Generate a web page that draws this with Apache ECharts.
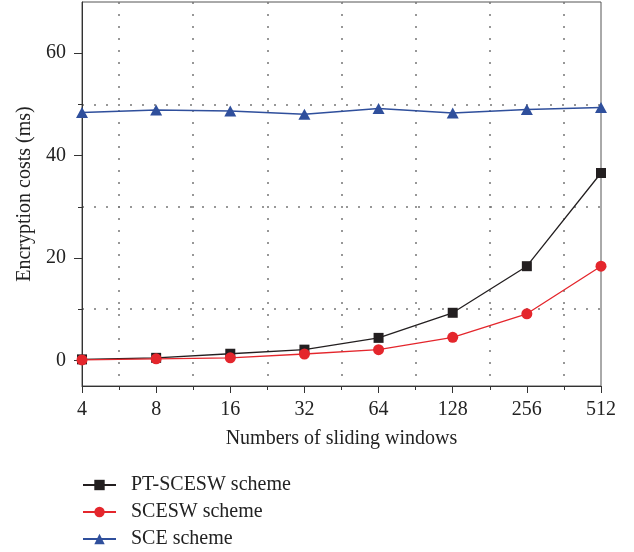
<!DOCTYPE html>
<html>
<head>
<meta charset="utf-8">
<script src="https://cdn.jsdelivr.net/npm/echarts@6/dist/echarts.min.js"></script>
<style>html,body{margin:0;padding:0;background:#fff}#c{width:634px;height:552px}</style>
</head>
<body>
<div id="c"></div>
<script>
var categories = ['4', '8', '16', '32', '64', '128', '256', '512'];
var ptScesw = [0.2, 0.5, 1.3, 2.1, 4.4, 9.3, 18.4, 36.6];
var scesw = [0.1, 0.3, 0.5, 1.25, 2.1, 4.5, 9.1, 18.4];
var sce = [48.4, 48.9, 48.7, 48.1, 49.2, 48.3, 49.0, 49.4];
var yMajorTicks = [0, 20, 40, 60];
var yMinorTicks = [10, 30, 50];

function pairs(arr) { return arr.map(function (v, i) { return [i, v]; }); }

var font = 'Liberation Serif';
var chart = echarts.init(document.getElementById('c'));
chart.setOption({
  animation: false,
  textStyle: { fontFamily: font },
  grid: { left: 82, right: 33, top: 2, bottom: 166, show: true, borderColor: '#555', borderWidth: 1, backgroundColor: 'transparent' },
  xAxis: {
    type: 'value', min: 0, max: categories.length - 1, interval: 1,
    name: 'Numbers of sliding windows', nameLocation: 'middle', nameGap: 43,
    nameTextStyle: { fontSize: 20, color: '#222', fontFamily: font },
    axisLine: { show: true, onZero: false, lineStyle: { color: '#333', width: 1 } },
    axisTick: { show: true, inside: false, length: 7, lineStyle: { color: '#333' } },
    minorTick: { show: true, splitNumber: 2, length: 4, lineStyle: { color: '#333' } },
    minorSplitLine: { show: true, lineStyle: { color: '#777', type: [2, 10], width: 1.5 } },
    splitLine: { show: false },
    axisLabel: { fontSize: 20, color: '#222', margin: 14, fontFamily: font,
      formatter: function (v) { return categories[Math.round(v)] || ''; } }
  },
  yAxis: [{
    type: 'value', min: -5, max: 70,
    name: 'Encryption costs (ms)', nameLocation: 'middle', nameGap: 47,
    nameTextStyle: { fontSize: 20, color: '#222', fontFamily: font },
    axisLine: { show: true, lineStyle: { color: '#333', width: 1 } },
    axisTick: { show: true, length: 8, customValues: yMajorTicks, lineStyle: { color: '#333' } },
    axisLabel: { fontSize: 20, color: '#222', margin: 16, customValues: yMajorTicks, fontFamily: font },
    splitLine: { show: false }
  }, {
    type: 'value', min: -5, max: 70, position: 'left',
    axisLine: { show: false },
    axisTick: { show: true, length: 4, customValues: yMinorTicks, lineStyle: { color: '#333' } },
    axisLabel: { show: false },
    splitLine: { show: true, lineStyle: { color: '#777', type: [2, 10], width: 1.5 } }
  }],
  legend: {
    orient: 'vertical', left: 82, top: 475, padding: 0, itemWidth: 33, itemHeight: 13, itemGap: 7,
    textStyle: { fontSize: 20, color: '#222', fontFamily: font, lineHeight: 20, padding: [0, 0, 0, 10] },
    data: ['PT-SCESW scheme', 'SCESW scheme', 'SCE scheme']
  },
  series: [{
    name: 'PT-SCESW scheme', type: 'line', data: pairs(ptScesw),
    symbol: 'rect', symbolSize: 10, z: 3,
    itemStyle: { color: '#231f20' }, lineStyle: { color: '#231f20', width: 1.3 }
  }, {
    name: 'SCESW scheme', type: 'line', data: pairs(scesw),
    symbol: 'circle', symbolSize: 11, z: 4,
    itemStyle: { color: '#e4262c' }, lineStyle: { color: '#e4262c', width: 1.3 }
  }, {
    name: 'SCE scheme', type: 'line', data: pairs(sce),
    symbol: 'triangle', symbolSize: [12, 11], z: 2,
    itemStyle: { color: '#2f4f9c' }, lineStyle: { color: '#2f4f9c', width: 1.5 }
  }]
});
</script>
</body>
</html>
